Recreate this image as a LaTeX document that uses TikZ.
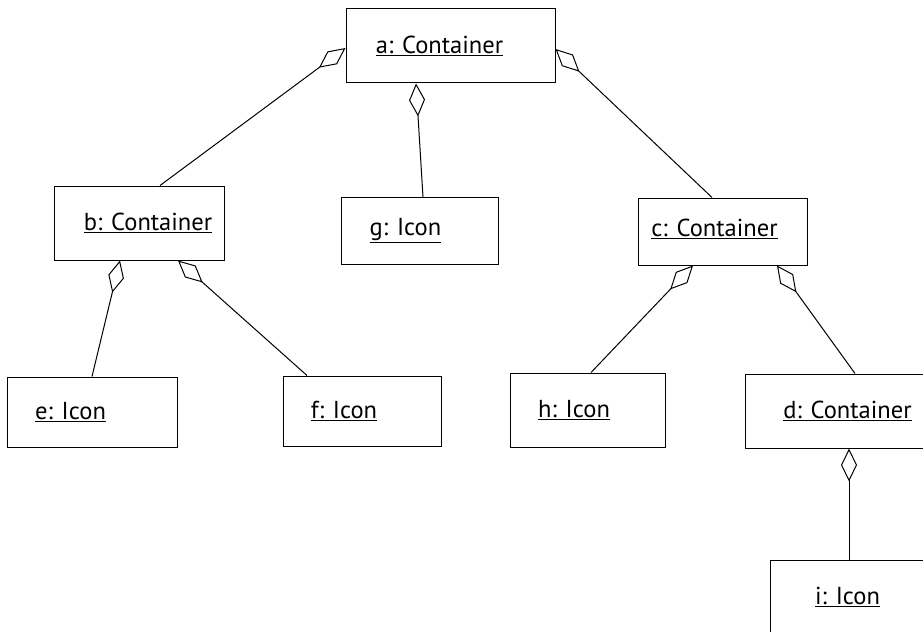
\documentclass[tikz,border=0pt]{standalone}
\usepackage{fontspec}
\setmainfont{PT Sans}
\usetikzlibrary{arrows.meta,positioning,calc}
\tikzset{
  obj/.style={rectangle, draw=black, line width=0.75pt, inner sep=0pt, fill=white},
  objlabel/.style={font=\fontsize{18.4}{22}\selectfont, inner sep=0pt},
  agg/.style={{Diamond[open, length=24.75pt, width=12pt]}-, line width=0.75pt, draw=black},
}
\newcommand{\ul}[1]{\underline{#1}}

\begin{document}
\begin{tikzpicture}[x=0.75pt, y=-0.75pt]
  \useasboundingbox (0,0) rectangle (923,631);
  \clip (0,0) rectangle (923,631);
  % objects
  \node[obj, minimum width=156.75pt, minimum height=55.5pt,
    label={[objlabel, xshift=-8.25pt]center:\ul{a: Container}}] (a) at (450.5,46) {};
  \node[obj, minimum width=127.5pt, minimum height=55.5pt,
    label={[objlabel, xshift=6.75pt]center:\ul{b: Container}}] (b) at (139,223) {};
  \node[obj, minimum width=117.75pt, minimum height=50.25pt,
    label={[objlabel, xshift=-10.9pt]center:\ul{g: Icon}}] (g) at (420,231) {};
  \node[obj, minimum width=126.75pt, minimum height=50.25pt,
    label={[objlabel, xshift=-6pt, yshift=2pt]center:\ul{c: Container}}] (c) at (722.5,231.5) {};
  \node[obj, minimum width=127.5pt, minimum height=52.5pt,
    label={[objlabel, xshift=-16.1pt]center:\ul{e: Icon}}] (e) at (92,412) {};
  \node[obj, minimum width=118.5pt, minimum height=52.5pt,
    label={[objlabel, xshift=-13.5pt]center:\ul{f: Icon}}] (f) at (362,411) {};
  \node[obj, minimum width=116.25pt, minimum height=55.5pt,
    label={[objlabel, xshift=-10.1pt]center:\ul{h: Icon}}] (h) at (587.5,410) {};
  \node[obj, minimum width=153.75pt, minimum height=55.5pt,
    label={[objlabel]center:\ul{d: Container}}] (d) at (847.5,411) {};
  \node[obj, minimum width=116.25pt, minimum height=55.5pt,
    label={[objlabel]center:\ul{i: Icon}}] (i) at (847.5,597) {};
  % aggregations
  \draw[agg] ($(a.west)+(0,2)$) -- ($(b.north)+(21,0)$);
  \draw[agg] ($(a.south)+(-34.5,0)$) -- ($(g.north)+(3,0)$);
  \draw[agg] ($(a.east)+(0,3)$) -- ($(c.north)+(-10.5,0)$);
  \draw[agg] ($(b.south)+(-19,0)$) -- (e.north);
  \draw[agg] ($(b.south)+(39,0)$) -- ($(f.north)+(-55,0)$);
  \draw[agg] ($(c.south)+(-29.5,0)$) -- ($(h.north)+(3.5,0)$);
  \draw[agg] ($(c.south)+(54.5,0)$) -- ($(d.north)+(7.5,0)$);
  \draw[agg] ($(d.south)+(1.5,0)$) -- ($(i.north)+(1.5,0)$);
\end{tikzpicture}
\end{document}
